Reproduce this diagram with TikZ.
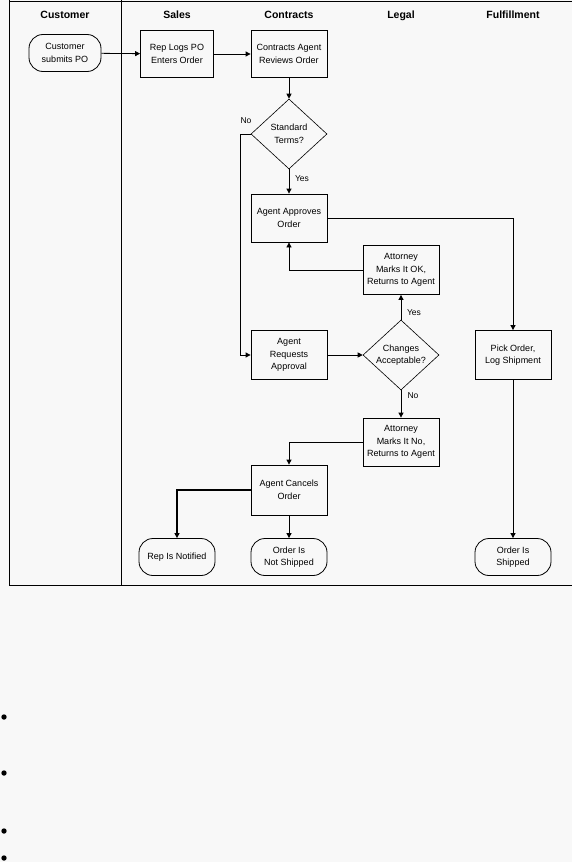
\documentclass[tikz,border=0pt]{standalone}
\usepackage{fontspec}
\setmainfont{Liberation Sans}
\usetikzlibrary{arrows.meta,shapes.geometric}
\definecolor{bgc}{RGB}{248,248,248}
\begin{document}
\begin{tikzpicture}[x=1pt,y=-1pt,
  every node/.style={font=\fontsize{9}{12.5}\selectfont, align=center, inner sep=0pt},
  box/.style={draw, line width=0.8pt, minimum width=76pt, minimum height=48pt},
  term/.style={draw, line width=0.8pt, rounded corners=14pt, minimum width=76pt, minimum height=37pt},
  dec/.style={draw, line width=0.6pt, diamond, aspect=1.086, minimum width=76pt, minimum height=70pt},
  hdr/.style={font=\fontsize{10.5}{12}\selectfont\bfseries, anchor=base},
  lbl/.style={font=\fontsize{8.5}{10}\selectfont},
  arr/.style={line width=0.8pt, -{Triangle[width=5pt,length=5pt]}},
  lane/.style={line width=1pt}]
\fill[bgc] (0,0) rectangle (572,862);
\useasboundingbox (0,0) rectangle (572,862);
% lanes
\draw[lane] (9,1) -- (572,1);
\draw[lane] (9,0) -- (9,585) -- (572,585);
\draw[lane] (121,0) -- (121,585);
% headers
\node[hdr] (h1) at (65,18.5) {Customer};
\node[hdr] (h2) at (177,18.5) {Sales};
\node[hdr] (h3) at (289,18.5) {Contracts};
\node[hdr] (h4) at (401,18.5) {Legal};
\node[hdr] (h5) at (513,18.5) {Fulfillment};
% nodes
\node[term, minimum width=72pt] (cust) at (65,53) {Customer\\submits PO};
\node[box, minimum width=73pt, minimum height=47pt] (rep) at (177,54) {Rep Logs PO\\Enters Order};
\node[box, minimum height=47pt] (rev) at (289,54) {Contracts Agent\\Reviews Order};
\node[dec] (std) at (289,134) {Standard\\Terms?};
\node[box] (appr) at (289,218) {Agent Approves\\Order};
\node[box, minimum height=49pt] (attok) at (401,270) {Attorney\\Marks It OK,\\Returns to Agent};
\node[box, minimum height=49pt] (req) at (289,355) {Agent\\Requests\\Approval};
\node[dec] (chg) at (401,355) {Changes\\Acceptable?};
\node[box, minimum height=49pt] (pick) at (513,355) {Pick Order,\\Log Shipment};
\node[box] (attno) at (401,442) {Attorney\\Marks It No,\\Returns to Agent};
\node[box, minimum height=50pt] (canc) at (289,490) {Agent Cancels\\Order};
\node[term] (notif) at (177,557) {Rep Is Notified};
\node[term] (notship) at (289,557) {Order Is\\Not Shipped};
\node[term] (shipped) at (513,557) {Order Is\\Shipped};
% labels
\node[lbl] (lno1) at (246,121) {No};
\node[lbl] (lyes1) at (302,179) {Yes};
\node[lbl] (lyes2) at (414,313) {Yes};
\node[lbl] (lno2) at (413,396) {No};
% connectors
\draw[arr] (cust) -- (rep);
\draw[arr] (rep) -- (rev);
\draw[arr] (rev) -- (std);
\draw[arr] (std.west) -- ++(-10,0) |- (req.west);
\draw[arr] (std) -- (appr);
\draw[arr] (appr.east) -| (pick.north);
\draw[arr] (chg) -- (attok);
\draw[arr] (attok.west) -| (appr.south);
\draw[arr] (req) -- (chg);
\draw[arr] (chg) -- (attno);
\draw[arr] (attno.west) -| (canc.north);
\draw[arr, line width=1.8pt] (canc.west) -| (notif.north);
\draw[arr] (canc) -- (notship);
\draw[arr] (pick) -- (shipped);
% stray bullets
\fill (4,717) circle (2.7);
\fill (4,773) circle (2.7);
\fill (4,831) circle (2.7);
\fill (4,858) circle (2.7);
\end{tikzpicture}
\end{document}
